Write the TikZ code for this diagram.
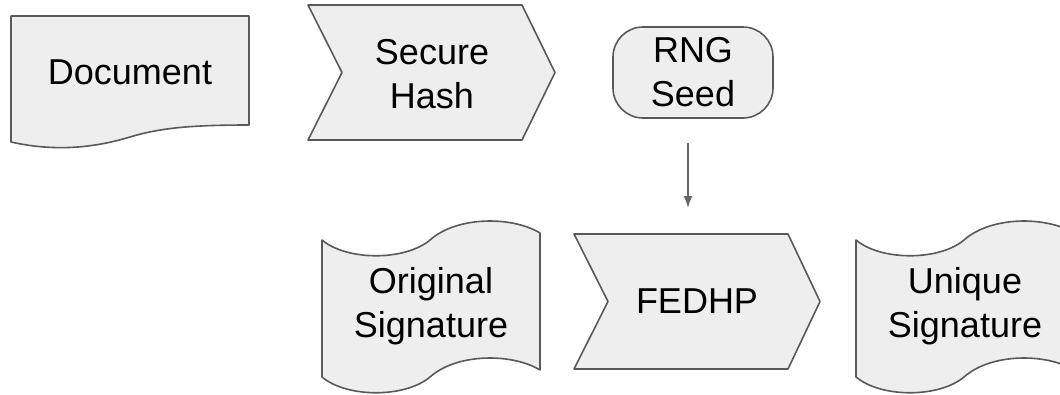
\documentclass[tikz,border=0pt]{standalone}
\usepackage{fontspec}
\setmainfont{Liberation Sans}
\usetikzlibrary{calc}
\definecolor{shapefill}{HTML}{EEEEEE}
\definecolor{shapeline}{HTML}{595959}
\definecolor{arrowline}{HTML}{666666}
\tikzset{
  shapebox/.style={fill=shapefill, draw=shapeline, line width=1.6pt, line join=round},
  lbl/.style={align=center, font=\fontsize{36}{44}\selectfont, text=black, inner sep=0pt},
  arr/.style={draw=arrowline, line width=1.6pt, -{Latex[length=12pt,width=9pt]}},
}
\usetikzlibrary{arrows.meta}
\begin{document}
\begin{tikzpicture}[x=1pt,y=-1pt]
\useasboundingbox (0,0) rectangle (1060,394);
\clip (0,0) rectangle (1060,394);
% Document
\path[shapebox] (11,16) -- (249,16) -- (249,125)
  .. controls (190,125) and (160,128) .. (130,137)
  .. controls (100,146) and (60,153) .. (11,142) -- cycle;
\node[lbl] (doc) at (130,72) {Document};
% Secure Hash chevron
\path[shapebox] (308,5) -- (522,5) -- (555,72.5) -- (522,140) -- (308,140) -- (342,72.5) -- cycle;
\node[lbl] (hash) at (432,74) {Secure\\Hash};
% RNG Seed
\node[shapebox, rounded corners=30pt, minimum width=160pt, minimum height=91pt, inner sep=0pt] (rngbox) at (693,72.5) {};
\node[lbl] (rng) at (693,72) {RNG\\Seed};
% FEDHP chevron
\path[shapebox] (574,234) -- (788,234) -- (820,301.5) -- (788,369) -- (574,369) -- (608,301.5) -- cycle;
\node[lbl] (fedhp) at (697,301) {FEDHP};
\coordinate (fedtop) at (688,234);
\draw[arr, shorten <=24pt, shorten >=26pt] (rngbox.south -| fedtop) -- (fedtop);
% Original Signature (punched tape)
\path[shapebox] (322,240)
  .. controls (347,261) and (405,261) .. (430,240)
  .. controls (457,216) and (512,216) .. (540,233)
  -- (540,370)
  .. controls (512,353) and (457,353) .. (430,377)
  .. controls (405,398) and (347,398) .. (322,377) -- cycle;
\node[lbl] (orig) at (431,306) {Original\\Signature};
% Unique Signature (punched tape)
\path[shapebox] (856,240)
  .. controls (881,261) and (939,261) .. (964,240)
  .. controls (991,216) and (1046,216) .. (1074,233)
  -- (1074,370)
  .. controls (1046,353) and (991,353) .. (964,377)
  .. controls (939,398) and (881,398) .. (856,377) -- cycle;
\node[lbl] (uniq) at (965,306) {Unique\\Signature};
\end{tikzpicture}
\end{document}
